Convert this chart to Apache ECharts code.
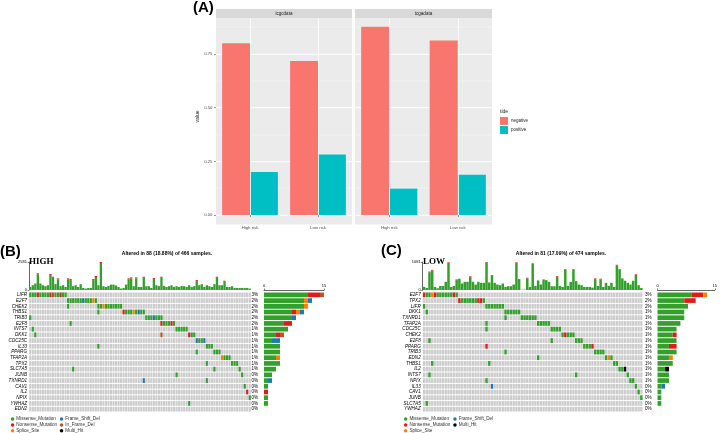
<!DOCTYPE html>
<html>
<head>
<meta charset="UTF-8">
<title>TIDE and oncoplots</title>
<script src="https://cdn.jsdelivr.net/npm/echarts@6/dist/echarts.min.js"></script>
<style>
    html, body { margin: 0; padding: 0; background: #fff; }
    #main { width: 720px; height: 433px; }
</style>
</head>
<body>
<div id="main"></div>
<script>
// ---- (A) TIDE response proportions ----
var riskGroups = ['High risk', 'Low risk'];
var facetNames = ['icgcdata', 'tcgadata'];
var negIcgc = [0.80, 0.718];
var posIcgc = [0.20, 0.282];
var negTcga = [0.877, 0.813];
var posTcga = [0.123, 0.187];
var yTicksA = [0, 0.25, 0.5, 0.75];

// ---- mutation types ----
var typeNames = ['Missense_Mutation', 'Nonsense_Mutation', 'Splice_Site', 'Frame_Shift_Del', 'In_Frame_Del', 'Multi_Hit'];
var typeCodes = ['M', 'N', 'S', 'F', 'I', 'H'];
var typeColors = ['#33A02C', '#E31A1C', '#FF7F00', '#1F78B4', '#B15928', '#000000'];

// ---- (B) HIGH risk oncoplot ----
var genesHigh = ['LIFR', 'E2F7', 'CHEK2', 'THBS1', 'TRIB3', 'E2F8', 'INTS7', 'DKK1', 'CDC25C', 'IL33', 'PPARG',
    'TFAP2A', 'TPX2', 'SLC7A5', 'JUNB', 'TXNRD1', 'CAV1', 'IL2', 'NPIX', 'YWHAZ', 'EDN2'];
var pctHigh = ['3%', '2%', '2%', '2%', '2%', '2%', '1%', '1%', '1%', '1%', '1%', '1%', '1%', '1%', '0%', '0%', '0%', '0%', '0%', '0%', '0%'];
// per gene: [first sample column, run of mutation codes]
var mutHigh = [
    [[0, 'MMMNMMMMNIMMNMM']],
    [[15, 'MMMMMMFMMMSM']],
    [[15, 'M'], [27, 'MMSMMMMMMM']],
    [[27, 'M'], [37, 'NMMMSMFMM']],
    [[0, 'M'], [46, 'MMMFMMM']],
    [[16, 'M'], [52, 'NMMMNM']],
    [[1, 'M'], [58, 'MMMMM']],
    [[2, 'M'], [52, 'I'], [63, 'NMM']],
    [[66, 'FMMF']],
    [[27, 'M'], [70, 'MMM']],
    [[66, 'M'], [73, 'MMM']],
    [[76, 'SMMM']],
    [[70, 'M'], [80, 'MMM']],
    [[17, 'M'], [73, 'M'], [83, 'M']],
    [[58, 'M'], [84, 'M']],
    [[45, 'F'], [70, 'M']],
    [[85, 'M']],
    [[86, 'N']],
    [[87, 'M']],
    [[63, 'M']],
    []
];
var tmbMisHigh = [
    280, 440, 600, 1450, 600, 440, 350, 440, 1390, 1130,
    540, 980, 350, 440, 280, 980, 910, 350, 440, 280,
    540, 190, 130, 190, 190, 910, 1200, 440, 2490, 350,
    280, 380, 500, 500, 410, 280, 130, 190, 500, 980,
    1070, 350, 1070, 280, 280, 1130, 350, 350, 190, 1010,
    440, 350, 1130, 380, 280, 350, 440, 280, 350, 280,
    380, 350, 280, 440, 280, 350, 820, 440, 540, 280,
    440, 350, 280, 540, 1130, 440, 440, 760, 280, 280,
    350, 190, 190, 190, 190, 190, 190, 130
];
// [sample column, nonsense count on top]
var tmbNonHigh = [[3, 91], [8, 91], [9, 91], [11, 91], [15, 91], [16, 91], [25, 91], [26, 91], [28, 91],
    [39, 91], [40, 91], [42, 91], [45, 91], [49, 91], [52, 91], [66, 91], [74, 91], [77, 91]];
var tmbMaxHigh = 2581;

// ---- (C) LOW risk oncoplot ----
var genesLow = ['E2F7', 'TPX2', 'LIFR', 'DKK1', 'TXNRD1', 'TFAP2A', 'CDC25C', 'CHEK2', 'E2F8', 'PPARG', 'TRIB3',
    'EDN2', 'THBS1', 'IL2', 'INTS7', 'NPIX', 'IL33', 'CAV1', 'JUNB', 'SLC7A5', 'YWHAZ'];
var pctLow = ['3%', '2%', '2%', '1%', '1%', '1%', '1%', '1%', '1%', '1%', '1%', '1%', '1%', '1%', '1%', '1%', '0%', '0%', '0%', '0%', '0%'];
var mutLow = [
    [[0, 'NMMSNMMMMMMNM']],
    [[13, 'NMMMMMMNNM']],
    [[0, 'M'], [23, 'MMMMMMM']],
    [[1, 'M'], [30, 'MMMMMM']],
    [[30, 'M'], [36, 'MMMMMM']],
    [[23, 'M'], [42, 'MMMMM']],
    [[23, 'M'], [47, 'MMMM']],
    [[51, 'MNMMM']],
    [[2, 'M'], [47, 'M'], [56, 'MMM']],
    [[23, 'N'], [59, 'MMMN']],
    [[30, 'M'], [63, 'MMMM']],
    [[42, 'M'], [67, 'MSM']],
    [[3, 'M'], [24, 'M'], [70, 'MM']],
    [[72, 'MMH']],
    [[2, 'M'], [56, 'M'], [75, 'M']],
    [[23, 'M'], [76, 'MM']],
    [[25, 'F'], [78, 'M']],
    [[79, 'M']],
    [[80, 'M']],
    [[1, 'M']],
    []
];
var tmbMisLow = [
    119, 79, 685, 751, 119, 66, 158, 158, 316, 1041,
    119, 158, 382, 435, 250, 316, 316, 501, 316, 211,
    316, 277, 277, 1056, 290, 554, 277, 211, 185, 250,
    119, 145, 145, 211, 1041, 422, 13, 13, 448, 119,
    1002, 158, 369, 211, 409, 382, 316, 145, 145, 514,
    158, 119, 778, 158, 316, 778, 343, 211, 185, 119,
    119, 119, 92, 422, 158, 409, 119, 277, 158, 277,
    119, 949, 778, 448, 356, 277, 211, 356, 580, 185,
    79
];
var tmbNonLow = [[2, 25], [3, 25], [9, 25], [12, 25], [17, 25], [23, 25], [25, 25], [34, 25], [38, 25],
    [40, 25], [49, 25], [52, 25], [55, 25], [63, 25], [65, 25], [71, 25], [72, 25], [78, 25]];
var tmbMaxLow = 1081;

var FONT = 'Liberation Sans, Arial, sans-serif';
var chart = echarts.init(document.getElementById('main'));
var grid = [], xAxis = [], yAxis = [], series = [];

function facet(left, width, neg, pos, showY) {
    var gi = grid.length;
    grid.push({ left: left, top: 18, width: width, height: 197, show: true, backgroundColor: '#EBEBEB', borderWidth: 0 });
    var xi = xAxis.length;
    xAxis.push({
        type: 'category', gridIndex: gi, data: riskGroups, offset: 9.4,
        axisLine: { show: false },
        axisTick: { show: true, length: 2, alignWithLabel: true, lineStyle: { color: '#333', width: 0.5 } },
        axisLabel: { fontSize: 4.3, color: '#4D4D4D', margin: 1.5, fontFamily: FONT },
        splitLine: { show: false }
    });
    var yi = yAxis.length;
    yAxis.push({
        type: 'value', gridIndex: gi, min: 0, max: 0.918, interval: 0.25,
        name: showY ? 'value' : '', nameLocation: 'middle', nameGap: 14, nameRotate: 90,
        nameTextStyle: { fontSize: 5, color: '#1A1A1A', fontFamily: FONT },
        axisLine: { show: false },
        axisTick: { show: showY, length: 2, lineStyle: { color: '#333', width: 0.5 } },
        axisLabel: { show: showY, fontSize: 4.3, color: '#4D4D4D', margin: 3.5, showMaxLabel: false, fontFamily: FONT,
            formatter: function (v) { return yTicksA.indexOf(v) >= 0 ? v.toFixed(2) : ''; } },
        splitLine: { show: true, showMaxLine: false, lineStyle: { color: '#fff', width: 0.8 } }
    });
    // minor grid lines
    yAxis.push({
        type: 'value', gridIndex: gi, min: 0, max: 0.918, interval: 0.125,
        axisLine: { show: false }, axisTick: { show: false }, axisLabel: { show: false },
        splitLine: { show: true, showMaxLine: false, lineStyle: { color: '#fff', width: 0.35 } }
    });
    // vertical grid lines at the group centres, behind the bars
    series.push({ type: 'line', name: 'vgrid' + gi, xAxisIndex: xi, yAxisIndex: yi, data: [], z: 1, silent: true,
        markLine: { silent: true, symbol: 'none', label: { show: false },
            lineStyle: { color: '#fff', width: 0.8, type: 'solid' },
            data: riskGroups.map(function (g) { return { xAxis: g }; }) } });
    series.push({ name: 'negative', type: 'bar', xAxisIndex: xi, yAxisIndex: yi, data: neg,
        itemStyle: { color: '#F8766D' }, barGap: '0%', barCategoryGap: '18%', z: 3 });
    series.push({ name: 'positive', type: 'bar', xAxisIndex: xi, yAxisIndex: yi, data: pos,
        itemStyle: { color: '#00BFC4' }, barGap: '0%', barCategoryGap: '18%', z: 3 });
}

function decode(mut) {
    var cells = [];
    mut.forEach(function (segs, g) {
        segs.forEach(function (seg) {
            for (var k = 0; k < seg[1].length; k++) {
                cells.push([seg[0] + k, g, typeCodes.indexOf(seg[1][k])]);
            }
        });
    });
    return cells;
}

function cellRender(params, api) {
    var c = api.coord([api.value(0), api.value(1)]);
    var s = api.size([1, 1]);
    var t = api.value(2);
    return {
        type: 'rect',
        shape: { x: c[0] - s[0] / 2 + 0.2, y: c[1] - s[1] / 2 + 0.5, width: s[0] - 0.4, height: s[1] - 1 },
        style: { fill: t < 0 ? '#CCCCCC' : typeColors[t] }
    };
}

function oncoPanel(left, width, sideLeft, genes, pct, mut, tmbMis, tmbNon, tmbMax) {
    var cols = tmbMis.map(function (v, i) { return String(i); });
    var cells = decode(mut);
    var bg = [];
    genes.forEach(function (g, gi) {
        cols.forEach(function (c, ci) { bg.push([ci, gi, -1]); });
    });
    var non = tmbMis.map(function () { return 0; });
    tmbNon.forEach(function (p) { non[p[0]] = p[1]; });

    // top TMB bars
    var g0 = grid.length;
    grid.push({ left: left, top: 262, width: width, height: 28 });
    var x0 = xAxis.length;
    xAxis.push({ type: 'category', gridIndex: g0, data: cols, show: false });
    var y0 = yAxis.length;
    yAxis.push({
        type: 'value', gridIndex: g0, min: 0, max: tmbMax, interval: tmbMax,
        axisLine: { show: true, lineStyle: { color: '#000', width: 0.6 } },
        axisTick: { show: true, length: 1.5, lineStyle: { color: '#000', width: 0.5 } },
        axisLabel: { fontSize: 4, color: '#000', margin: 2, fontFamily: FONT,
            formatter: function (v) { return String(v); } },
        splitLine: { show: false }
    });
    series.push({ name: typeNames[0], type: 'bar', stack: 'tmb' + g0, xAxisIndex: x0, yAxisIndex: y0,
        data: tmbMis, itemStyle: { color: typeColors[0] }, barCategoryGap: '8%' });
    series.push({ name: typeNames[1], type: 'bar', stack: 'tmb' + g0, xAxisIndex: x0, yAxisIndex: y0,
        data: non, itemStyle: { color: typeColors[1] }, barCategoryGap: '8%' });

    // mutation matrix
    var g1 = grid.length;
    grid.push({ left: left, top: 292, width: width, height: 120 });
    var x1 = xAxis.length;
    xAxis.push({ type: 'category', gridIndex: g1, data: cols, show: false });
    var y1 = yAxis.length;
    yAxis.push({
        type: 'category', gridIndex: g1, data: genes, inverse: true,
        axisLine: { show: false }, axisTick: { show: false },
        axisLabel: { fontSize: 4.6, fontStyle: 'italic', color: '#000', margin: 2, fontFamily: FONT, interval: 0 }
    });
    series.push({ type: 'custom', name: 'bg' + g1, xAxisIndex: x1, yAxisIndex: y1, renderItem: cellRender,
        data: bg, silent: true, z: 1 });
    series.push({ type: 'custom', name: 'cells' + g1, xAxisIndex: x1, yAxisIndex: y1, renderItem: cellRender,
        data: cells, silent: true, z: 2 });

    // side bars: mutated samples per gene
    var g2 = grid.length;
    grid.push({ left: sideLeft, top: 292, width: 60, height: 120 });
    var x2 = xAxis.length;
    xAxis.push({
        type: 'value', gridIndex: g2, min: 0, max: 15, interval: 15, position: 'top', offset: 2,
        axisLine: { show: true, lineStyle: { color: '#000', width: 0.6 } },
        axisTick: { show: true, length: 1.5, lineStyle: { color: '#000', width: 0.5 } },
        axisLabel: { fontSize: 4, color: '#000', margin: 2, fontFamily: FONT },
        splitLine: { show: false }
    });
    var y2 = yAxis.length;
    yAxis.push({
        type: 'category', gridIndex: g2, data: pct, inverse: true,
        axisLine: { show: false }, axisTick: { show: false },
        axisLabel: { fontSize: 4.6, color: '#000', align: 'left', margin: 12.5, fontFamily: FONT, interval: 0 }
    });
    typeNames.forEach(function (name, t) {
        var counts = genes.map(function () { return 0; });
        cells.forEach(function (c) { if (c[2] === t) counts[c[1]] += 1; });
        series.push({ name: name, type: 'bar', stack: 'side' + g2, xAxisIndex: x2, yAxisIndex: y2,
            data: counts, itemStyle: { color: typeColors[t] }, barCategoryGap: '18%' });
    });
}

facet(216, 136, negIcgc, posIcgc, true);
facet(355, 137, negTcga, posTcga, false);
oncoPanel(29, 222, 264, genesHigh, pctHigh, mutHigh, tmbMisHigh, tmbNonHigh, tmbMaxHigh);
oncoPanel(422.7, 220, 657.5, genesLow, pctLow, mutLow, tmbMisLow, tmbNonLow, tmbMaxLow);

function oncoLegend(left, names) {
    return {
        data: names, orient: 'vertical', left: left, top: 416.6, height: 40, itemWidth: 3.5, itemHeight: 3.5,
        itemGap: 0.8, icon: 'circle', selectedMode: false, padding: 0,
        textStyle: { fontSize: 4.6, color: '#333', fontFamily: FONT, padding: [0, 0, 0, -3] }
    };
}

function txt(x, y, s, size, opts) {
    opts = opts || {};
    return {
        type: 'text', x: x, y: y, silent: true,
        style: { text: s, fontSize: size, fontWeight: opts.weight || 'normal', fill: opts.fill || '#000',
            fontFamily: opts.font || FONT, align: opts.align || 'left', verticalAlign: 'middle' }
    };
}

var graphic = [
    { type: 'rect', shape: { x: 216, y: 215, width: 136, height: 9.4 }, style: { fill: '#EBEBEB' }, silent: true },
    { type: 'rect', shape: { x: 355, y: 215, width: 137, height: 9.4 }, style: { fill: '#EBEBEB' }, silent: true },
    { type: 'rect', shape: { x: 216, y: 9, width: 136, height: 9 }, style: { fill: '#D9D9D9' }, silent: true },
    { type: 'rect', shape: { x: 355, y: 9, width: 137, height: 9 }, style: { fill: '#D9D9D9' }, silent: true },
    txt(284, 13.6, facetNames[0], 4.5, { fill: '#1A1A1A', align: 'center' }),
    txt(423.5, 13.6, facetNames[1], 4.5, { fill: '#1A1A1A', align: 'center' }),
    txt(193, 8, '(A)', 15, { weight: 'bold' }),
    txt(500, 112, 'tide', 5, { fill: '#1A1A1A' }),
    txt(0, 252, '(B)', 15, { weight: 'bold' }),
    txt(29, 262, 'HIGH', 9, { weight: 'bold', font: 'Liberation Serif, serif' }),
    txt(167, 254, 'Altered in 88 (18.88%) of 466 samples.', 5, { weight: 'bold', align: 'center' }),
    txt(381, 251, '(C)', 15, { weight: 'bold' }),
    txt(423, 262, 'LOW', 9, { weight: 'bold', font: 'Liberation Serif, serif' }),
    txt(561, 254, 'Altered in 81 (17.09%) of 474 samples.', 5, { weight: 'bold', align: 'center' })
];

var option = {
    animation: false,
    textStyle: { fontFamily: FONT },
    grid: grid,
    xAxis: xAxis,
    yAxis: yAxis,
    series: series,
    legend: [
        { data: ['negative', 'positive'], orient: 'vertical', left: 500, top: 117, itemWidth: 8, itemHeight: 8,
            itemGap: 1, icon: 'rect', selectedMode: false, padding: 0,
            textStyle: { fontSize: 4.5, color: '#1A1A1A', fontFamily: FONT, padding: [0, 0, 0, -2] } },
        oncoLegend(10.8, [typeNames[0], typeNames[1], typeNames[2]]),
        oncoLegend(59.8, [typeNames[3], typeNames[4], typeNames[5]]),
        oncoLegend(403.9, [typeNames[0], typeNames[1], typeNames[2]]),
        oncoLegend(453.2, [typeNames[3], typeNames[5]])
    ],
    graphic: graphic
};
chart.setOption(option);
window.addEventListener('resize', function () { chart.resize(); });
</script>
</body>
</html>
